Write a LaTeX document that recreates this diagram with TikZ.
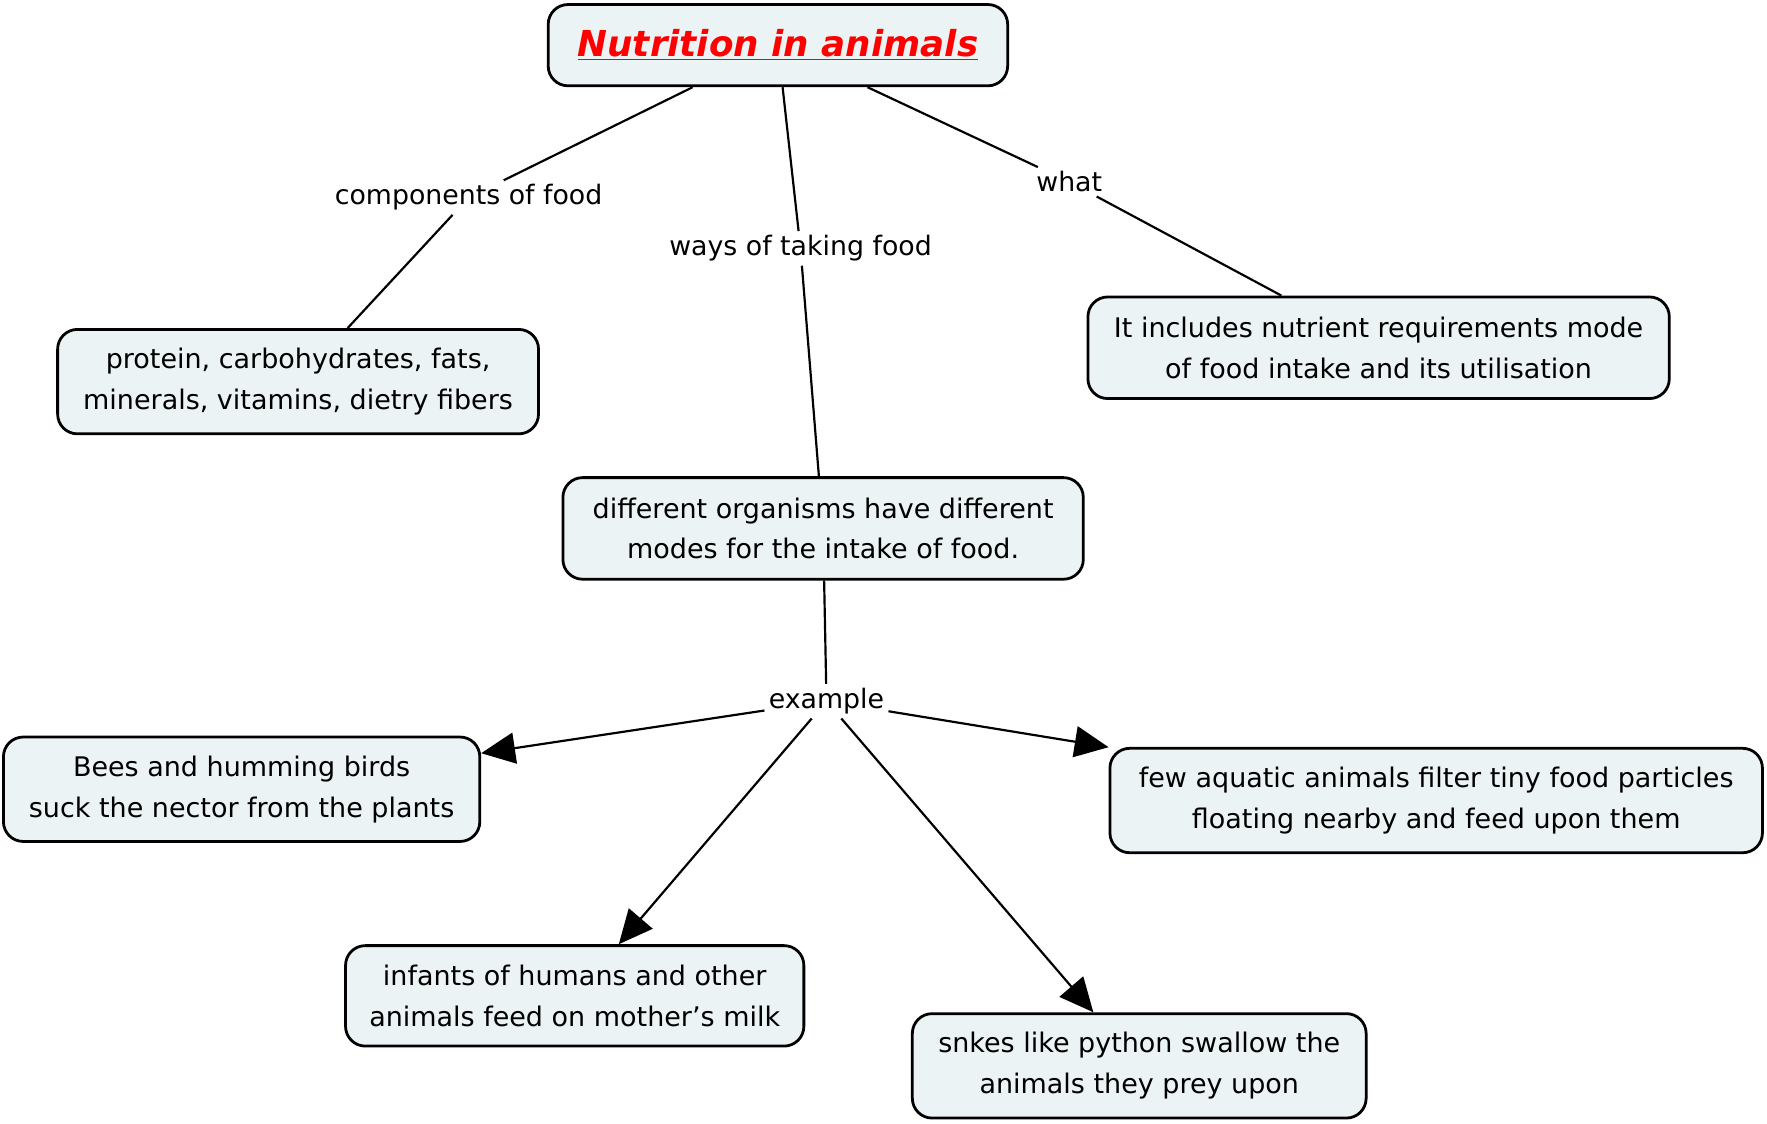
\documentclass[tikz,border=0pt]{standalone}
\usepackage{fontspec}
\setmainfont{DejaVu Sans}
\usetikzlibrary{arrows.meta}
\definecolor{boxfill}{HTML}{EBF3F5}
\tikzset{
  concept/.style={draw, line width=1.4pt, rounded corners=0.35cm, fill=boxfill,
    align=center, font=\fontsize{13.6}{20.5}\selectfont, minimum height=1.85cm},
  linklabel/.style={font=\fontsize{13.5}{15}\selectfont, inner sep=2pt},
  link/.style={line width=1.1pt},
  linkarrow/.style={line width=1.1pt, -{Triangle[length=0.6cm, width=0.55cm]}}
}
\begin{document}
\begin{tikzpicture}[x=0.02cm, y=-0.02cm]
\useasboundingbox (0,0) rectangle (1565,995);

			% concepts
			\node[concept, minimum width=8.14cm, minimum height=1.44cm, font=\fontsize{18}{20}\selectfont\bfseries\itshape, text=red] (title) at (689,40) {\underline{Nutrition in animals}};
			\node[concept, minimum width=8.52cm] (comp) at (264,338) {protein, carbohydrates, fats,\\minerals, vitamins, dietry fibers};
			\node[concept, minimum width=10.3cm, minimum height=1.8cm] (what) at (1221,308) {It includes nutrient requirements mode\\of food intake and its utilisation};
			\node[concept, minimum width=9.22cm, minimum height=1.8cm] (ways) at (729,468) {different organisms have different\\modes for the intake of food.};
			\node[concept, minimum width=8.44cm] (bees) at (214,699) {Bees and humming birds\\suck the nector from the plants};
			\node[concept, minimum width=11.56cm] (filter) at (1272,709) {few aquatic animals filter tiny food particles\\floating nearby and feed upon them};
			\node[concept, minimum width=8.12cm, minimum height=1.78cm] (infants) at (509,882) {infants of humans and other\\animals feed on mother{\char39}s milk};
			\node[concept, minimum width=8.04cm] (snakes) at (1009,944) {snkes like python swallow the\\animals they prey upon};

			% link labels
			\node[linklabel] (lcomp) at (415,175) {components of food};
			\node[linklabel] (lways) at (709,220) {ways of taking food};
			\node[linklabel] (lwhat) at (947,161) {what};
			\node[linklabel] (lex) at (732,621) {example};

			% connectors
			\draw[link] (title) -- (lcomp) -- (comp);
			\draw[link] (title) -- (lways) -- (ways);
			\draw[link] (title) -- (lwhat) -- (what);
			\draw[link] (ways) -- (lex);
			\draw[linkarrow] (lex) -- (bees);
			\draw[linkarrow] (lex) -- (filter);
			\draw[linkarrow] (lex) -- (infants);
			\draw[linkarrow] (lex) -- (snakes);
		\end{tikzpicture}
\end{document}
